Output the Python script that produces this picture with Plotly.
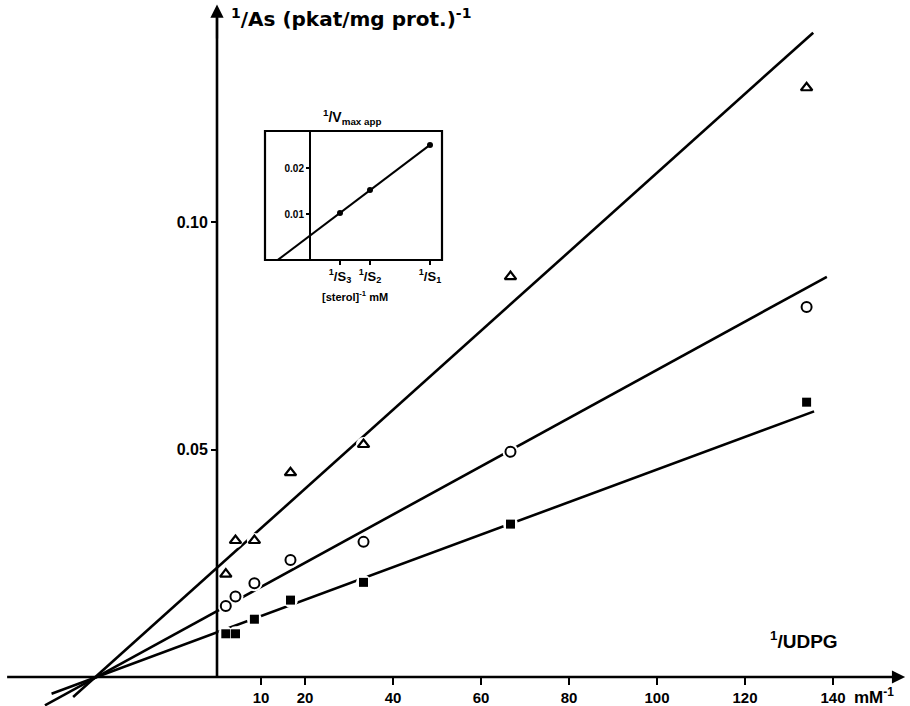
import numpy as np
import plotly.graph_objects as go

# ---------------- data ----------------
x_udpg = [2.0, 4.2, 8.5, 16.7, 33.3, 66.7, 134.0]          # 1/[UDPG] (mM^-1)
y_tri = [0.0226, 0.0300, 0.0300, 0.0449, 0.0511, 0.0880, 0.1295]
y_circ = [0.0156, 0.0177, 0.0206, 0.0257, 0.0297, 0.0495, 0.0813]
y_sq = [0.0095, 0.0095, 0.0127, 0.0169, 0.0208, 0.0336, 0.0604]

line_intercepts = [0.0240, 0.0145, 0.0098]
line_slopes = [0.000868, 0.00053, 0.000358]
line_x_start = [-32.7, -39.1, -37.6]
line_x_end = [135.5, 138.6, 135.7]

x_ticks = [10, 20, 40, 60, 80, 100, 120, 140]
x_tick_labels = ["10", "20", "40", "60", "80", "100", "120", "140"]
y_ticks = [0.05, 0.10]
y_tick_labels = ["0.05", "0.10"]

# inset
inset_x = [1.0, 2.0, 4.0]             # 1/S3, 1/S2, 1/S1
inset_y = [0.0102, 0.0152, 0.0250]
inset_tick_labels = ["<sup>1</sup>/S<sub>3</sub>", "<sup>1</sup>/S<sub>2</sub>", "<sup>1</sup>/S<sub>1</sub>"]
inset_y_ticks = [0.01, 0.02]
inset_y_tick_labels = ["0.01", "0.02"]
inset_intercept = 0.0053
inset_slope = 0.00493
inset_x_start = -1.07
inset_x_end = 4.0

# ---------------- layout geometry ----------------
W, H = 910, 706
X0_PX, PX_PER_X = 217.0, 4.4
Y0_PX, PX_PER_Y = 677.0, 4550.0
x_range = [(0 - X0_PX) / PX_PER_X, (W - X0_PX) / PX_PER_X]
y_range = [(Y0_PX - H) / PX_PER_Y, Y0_PX / PX_PER_Y]

def px(xp):
    return xp / W

def py(yp):
    return 1 - yp / H

FONT = "Liberation Sans, Arial, sans-serif"
WIDE = "DejaVu Sans, Liberation Sans, sans-serif"
LW = 2.6

fig = go.Figure()

# regression lines
for b, m, xs, xe in zip(line_intercepts, line_slopes, line_x_start, line_x_end):
    xx = np.array([xs, xe])
    fig.add_trace(go.Scatter(x=xx, y=b + m * xx, mode="lines",
                             line=dict(color="black", width=LW),
                             showlegend=False, hoverinfo="skip"))

# white halos around points (gaps in the lines)
for ys, size in [(y_tri, 15), (y_circ, 16), (y_sq, 15)]:
    fig.add_trace(go.Scatter(x=x_udpg, y=ys, mode="markers",
                             marker=dict(symbol="circle", size=size, color="white",
                                         line=dict(width=0)),
                             showlegend=False, hoverinfo="skip"))

fig.add_trace(go.Scatter(x=x_udpg, y=y_tri, mode="markers",
                         marker=dict(symbol="triangle-up-open", size=10, color="black",
                                     line=dict(width=2.2, color="black")),
                         showlegend=False))
fig.add_trace(go.Scatter(x=x_udpg, y=y_circ, mode="markers",
                         marker=dict(symbol="circle-open", size=10, color="black",
                                     line=dict(width=2.0, color="black")),
                         showlegend=False))
fig.add_trace(go.Scatter(x=x_udpg, y=y_sq, mode="markers",
                         marker=dict(symbol="square", size=9, color="black",
                                     line=dict(width=0)),
                         showlegend=False))

# inset traces
ix = np.array([inset_x_start, inset_x_end])
fig.add_trace(go.Scatter(x=ix, y=inset_intercept + inset_slope * ix, mode="lines",
                         line=dict(color="black", width=2.0),
                         xaxis="x2", yaxis="y2", showlegend=False, hoverinfo="skip"))
fig.add_trace(go.Scatter(x=inset_x, y=inset_y, mode="markers",
                         marker=dict(symbol="circle", size=6, color="black"),
                         xaxis="x2", yaxis="y2", showlegend=False))

# inset geometry
IN_L, IN_R, IN_T, IN_B = 265, 442, 131, 260
IN_X0, IN_PXU = 310, 30.0
inset_x_range = [(IN_L - IN_X0) / IN_PXU, (IN_R - IN_X0) / IN_PXU]
inset_y_range = [0, (IN_B - IN_T) / 4600.0]

fig.update_layout(
    width=W, height=H,
    margin=dict(l=0, r=0, t=0, b=0),
    paper_bgcolor="white", plot_bgcolor="rgba(0,0,0,0)",
    font=dict(family=FONT, color="black"),
    xaxis=dict(range=x_range, domain=[0, 1], anchor="free", position=py(Y0_PX),
               showgrid=False, zeroline=False, showline=False,
               ticks="outside", ticklen=7, tickwidth=2, tickcolor="black",
               tickvals=x_ticks, ticktext=x_tick_labels,
               tickfont=dict(family=FONT, size=15, weight="bold")),
    yaxis=dict(range=y_range, domain=[0, 1], anchor="free", position=px(X0_PX),
               showgrid=False, zeroline=False, showline=False,
               ticks="outside", ticklen=6, tickwidth=2, tickcolor="black",
               tickvals=y_ticks, ticktext=y_tick_labels,
               tickfont=dict(family=FONT, size=16, weight="bold")),
    xaxis2=dict(range=inset_x_range, domain=[px(IN_L), px(IN_R)], anchor="y2",
                showgrid=False, zeroline=False, showline=False,
                ticks="outside", ticklen=4, tickwidth=1.5, tickcolor="black",
                tickvals=inset_x, ticktext=inset_tick_labels,
                tickfont=dict(family=FONT, size=13, weight="bold")),
    yaxis2=dict(range=inset_y_range, domain=[py(IN_B), py(IN_T)], anchor="free",
                position=px(IN_X0),
                showgrid=False, zeroline=False, showline=True, linecolor="black",
                linewidth=2,
                ticks="outside", ticklen=3, tickwidth=1.5, tickcolor="black",
                tickvals=inset_y_ticks, ticktext=inset_y_tick_labels,
                tickfont=dict(family=FONT, size=10, weight="bold")),
    showlegend=False,
)

shapes = [
    # main x axis
    dict(type="line", xref="x", yref="y", x0=-47.7, x1=154.5, y0=0, y1=0,
         line=dict(color="black", width=LW), layer="above"),
    # main y axis
    dict(type="line", xref="x", yref="y", x0=0, x1=0, y0=0, y1=0.145,
         line=dict(color="black", width=LW), layer="above"),
    # inset frame
    dict(type="rect", xref="x2 domain", yref="y2 domain", x0=0, x1=1, y0=0, y1=1,
         line=dict(color="black", width=2.2), layer="above"),
]
fig.update_layout(shapes=shapes)

ann = [
    # arrowheads
    dict(x=156.4, y=0, ax=150, ay=0, xref="x", yref="y", axref="x", ayref="y",
         showarrow=True, arrowhead=2, arrowsize=1.2, arrowwidth=2.2, arrowcolor="black", text=""),
    dict(x=0, y=0.1478, ax=0, ay=0.14, xref="x", yref="y", axref="x", ayref="y",
         showarrow=True, arrowhead=2, arrowsize=1.2, arrowwidth=2.2, arrowcolor="black", text=""),
    # axis titles
    dict(x=px(229), y=py(18), xref="paper", yref="paper", xanchor="left", yanchor="middle",
         showarrow=False, text="<sup>1</sup>/As (pkat/mg prot.)<sup>-1</sup>",
         font=dict(family=WIDE, size=20, weight="bold")),
    dict(x=px(768), y=py(640), xref="paper", yref="paper", xanchor="left", yanchor="middle",
         showarrow=False, text="<sup>1</sup>/UDPG",
         font=dict(family=FONT, size=19, weight="bold")),
    dict(x=px(852), y=py(696), xref="paper", yref="paper", xanchor="left", yanchor="middle",
         showarrow=False, text="mM<sup>-1</sup>",
         font=dict(family=FONT, size=17, weight="bold")),
    # inset titles
    dict(x=px(321), y=py(117), xref="paper", yref="paper", xanchor="left", yanchor="middle",
         showarrow=False, text="<sup>1</sup>/V<sub>max app</sub>",
         font=dict(family=FONT, size=14, weight="bold")),
    dict(x=px(320), y=py(296), xref="paper", yref="paper", xanchor="left", yanchor="middle",
         showarrow=False, text="[sterol]<sup>-1</sup> mM",
         font=dict(family=FONT, size=11, weight="bold")),
]
fig.update_layout(annotations=ann)

fig.write_html(
    "out.html",
    config={"displayModeBar": False},
    post_script="document.body.style.margin='0';document.body.style.overflow='hidden';",
)
